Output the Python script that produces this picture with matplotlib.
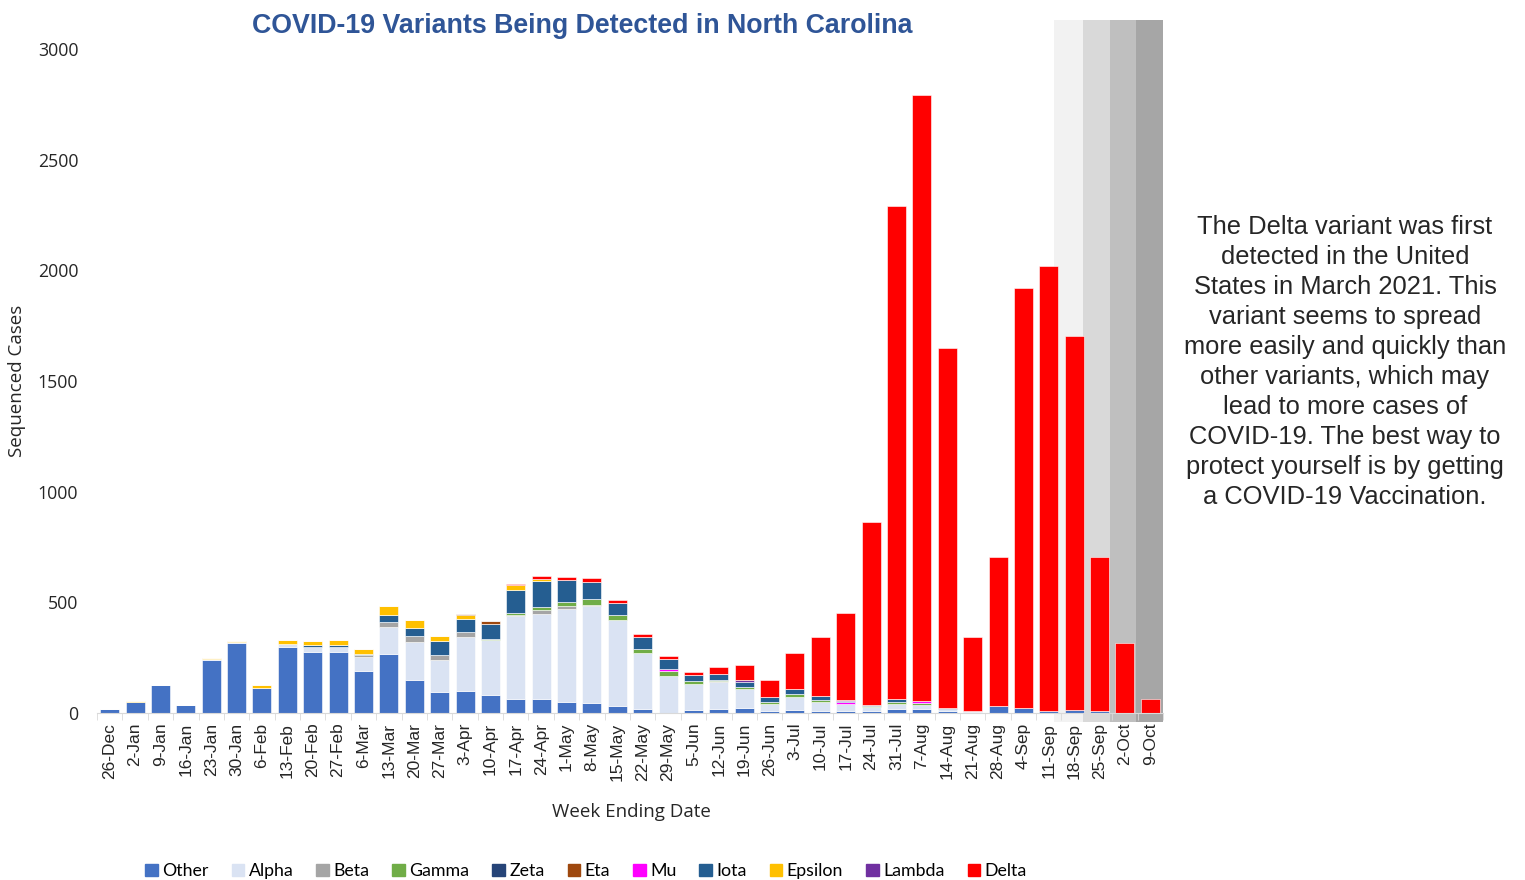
import matplotlib
matplotlib.use("Agg")
import matplotlib.pyplot as plt
from matplotlib.patches import Patch
import numpy as np


weeks = [
    "26-Dec", "2-Jan", "9-Jan", "16-Jan", "23-Jan", "30-Jan", "6-Feb",
    "13-Feb", "20-Feb", "27-Feb", "6-Mar", "13-Mar", "20-Mar", "27-Mar",
    "3-Apr", "10-Apr", "17-Apr", "24-Apr", "1-May", "8-May", "15-May",
    "22-May", "29-May", "5-Jun", "12-Jun", "19-Jun", "26-Jun", "3-Jul",
    "10-Jul", "17-Jul", "24-Jul", "31-Jul", "7-Aug", "14-Aug", "21-Aug",
    "28-Aug", "4-Sep", "11-Sep", "18-Sep", "25-Sep", "2-Oct", "9-Oct",
]

other = [17, 48, 128, 35, 240, 318, 113, 297, 277, 276, 190, 268, 151, 93,
         101, 81, 65, 63, 50, 47, 33, 18, 2, 12, 18, 23, 9, 12, 9, 9,
         9, 17, 20, 9, 5, 33, 23, 9, 15, 10, 2, 0]
alpha = [0, 0, 0, 0, 2, 2, 0, 14, 20, 21, 65, 122, 169, 148,
         243, 247, 372, 386, 422, 435, 389, 253, 167, 120, 122, 87, 30, 60,
         40, 33, 18, 25, 14, 8, 4, 0, 0, 0, 0, 0, 0, 0]
beta = [0, 0, 0, 0, 0, 0, 0, 0, 0, 0, 8, 21, 30, 23,
        23, 0, 8, 15, 10, 5, 0, 0, 0, 0, 5, 0, 0, 0,
        0, 0, 0, 0, 0, 0, 0, 0, 0, 0, 0, 0, 0, 0]
gamma = [0, 0, 0, 0, 0, 0, 0, 0, 0, 0, 0, 0, 0, 0,
         0, 7, 8, 15, 20, 30, 20, 20, 22, 12, 5, 8, 12, 15,
         8, 0, 3, 7, 9, 0, 0, 0, 0, 0, 0, 0, 0, 0]
zeta = [0, 0, 0, 0, 0, 0, 0, 0, 3, 2, 0, 0, 0, 0,
        0, 0, 0, 0, 0, 0, 0, 0, 0, 0, 0, 0, 0, 0,
        0, 0, 0, 0, 0, 0, 0, 0, 0, 0, 0, 0, 0, 0]
mu = [0, 0, 0, 0, 0, 0, 0, 0, 0, 0, 0, 0, 0, 0,
      0, 0, 0, 0, 0, 0, 0, 0, 6, 0, 0, 0, 0, 0,
      3, 9, 0, 0, 12, 0, 0, 0, 0, 0, 0, 0, 0, 0]
iota = [0, 0, 0, 0, 0, 0, 0, 0, 8, 7, 5, 33, 33, 63,
        56, 65, 104, 117, 98, 75, 53, 51, 47, 26, 27, 23, 21, 23,
        15, 5, 5, 15, 0, 4, 0, 0, 0, 0, 0, 0, 0, 0]
lambda_ = [0, 0, 0, 0, 0, 0, 0, 0, 0, 0, 0, 0, 0, 0,
           0, 0, 0, 0, 0, 0, 0, 0, 0, 0, 0, 7, 0, 0,
           0, 4, 0, 0, 0, 2, 0, 0, 0, 0, 0, 0, 0, 0]
epsilon = [0, 5, 0, 0, 5, 6, 12, 18, 17, 22, 22, 39, 39, 21,
           20, 0, 20, 10, 0, 0, 0, 0, 0, 0, 0, 0, 0, 0,
           0, 0, 0, 0, 0, 0, 0, 0, 0, 0, 0, 0, 0, 0]
eta = [0, 0, 0, 0, 0, 0, 0, 0, 0, 0, 0, 0, 0, 0,
       4, 14, 3, 0, 0, 0, 0, 0, 0, 0, 0, 0, 0, 0,
       0, 0, 0, 0, 0, 0, 0, 0, 0, 0, 0, 0, 0, 0]
delta = [0, 0, 0, 0, 0, 0, 0, 0, 0, 0, 0, 0, 0, 0,
         0, 0, 4, 15, 15, 18, 14, 17, 12, 15, 30, 68, 78, 163,
         268, 392, 830, 2227, 2737, 1626, 336, 672, 1897, 2010, 1688, 695, 314, 63]

# stacking order (bottom to top) as it appears in the bars
stack = [
    ("Other", other, "#4472c4"),
    ("Alpha", alpha, "#dae3f3"),
    ("Beta", beta, "#a5a5a5"),
    ("Gamma", gamma, "#70ad47"),
    ("Zeta", zeta, "#264478"),
    ("Mu", mu, "#ff00ff"),
    ("Iota", iota, "#255e91"),
    ("Lambda", lambda_, "#7030a0"),
    ("Epsilon", epsilon, "#ffc000"),
    ("Eta", eta, "#9e480e"),
    ("Delta", delta, "#ff0000"),
]

legend_order = ["Other", "Alpha", "Beta", "Gamma", "Zeta", "Eta", "Mu",
                "Iota", "Epsilon", "Lambda", "Delta"]

# grey boxes behind the most recent weeks (x edges in category units)
band_edges = [37.2, 38.35, 39.4, 40.45, 41.5]
band_colors = ["#f2f2f2", "#d9d9d9", "#bfbfbf", "#a6a6a6"]

note = (
    "The Delta variant was first\n"
    "detected in the United\n"
    "States in March 2021. This\n"
    "variant seems to spread\n"
    "more easily and quickly than\n"
    "other variants, which may\n"
    "lead to more cases of\n"
    "COVID-19. The best way to\n"
    "protect yourself is by getting\n"
    "a COVID-19 Vaccination."
)

W, H = 1525, 880
fig = plt.figure(figsize=(W / 100, H / 100), dpi=100)
ax = fig.add_axes([97 / W, 1 - 713 / H, (1163 - 97) / W, 664 / H])

x = np.arange(len(weeks))
bottom = np.zeros(len(weeks))
colors = {}

for name, vals, col in stack:
    vals = np.array(vals, dtype=float)
    ax.bar(
        x, vals, 0.75,
        bottom=bottom,
        color=col,
        edgecolor="white",
        linewidth=0.4,
        zorder=2
    )
    bottom += vals
    colors[name] = col

for i in range(len(band_colors)):
    ax.axvspan(
        band_edges[i], band_edges[i + 1],
        ymin=-0.014, ymax=1.044,
        color=band_colors[i],
        lw=0,
        zorder=0,
        clip_on=False
    )

ax.set_xlim(-0.5, len(weeks) - 0.5)
ax.set_ylim(0, 3000)

for side in ["top", "right", "left"]:
    ax.spines[side].set_visible(False)
ax.spines["bottom"].set_color("#d9d9d9")
ax.spines["bottom"].set_zorder(3)

ax.set_yticks(range(0, 3001, 500))
ax.tick_params(axis="y", length=0, pad=13.5, labelsize=12.8,
               labelcolor="#262626")
for lab in ax.get_yticklabels():
    lab.set_family("Open Sans")

ax.set_xticks(x)
ax.set_xticklabels(weeks, rotation=90, family="Liberation Sans",
                   fontsize=12.5, color="#262626")
ax.tick_params(axis="x", which="major", length=0, pad=7)
ax.set_xticks(np.arange(-0.5, len(weeks), 1), minor=True)
ax.tick_params(axis="x", which="minor", length=5, color="#d9d9d9")

fig.text(582 / W, 1 - 26 / H,
         "COVID-19 Variants Being Detected in North Carolina",
         ha="center", va="center", fontsize=19.3, fontweight="bold",
         family="Liberation Sans", color="#2f5597")

fig.text(631 / W, 1 - 812 / H, "Week Ending Date",
         ha="center", va="center", fontsize=13.5,
         family="Open Sans", color="#262626")
fig.text(17 / W, 1 - 381 / H, "Sequenced Cases",
         ha="center", va="center", rotation=90, fontsize=13.5,
         family="Open Sans", color="#262626")

fig.text(1345 / W, 1 - 362 / H, note,
         ha="center", va="center", multialignment="center",
         fontsize=18.4, linespacing=1.32,
         family="Liberation Sans", color="#262626")

handles = [Patch(color=colors[n], label=n) for n in legend_order]
fig.legend(
    handles=handles,
    loc="center",
    bbox_to_anchor=(586 / W, 1 - 871 / H),
    ncol=len(handles),
    frameon=False,
    prop={"family": "Lato", "size": 12.8},
    handlelength=0.7,
    handleheight=0.7,
    handletextpad=0.25,
    columnspacing=1.3,
    borderaxespad=0,
    borderpad=0
)

fig.savefig("out.png", dpi=100)
